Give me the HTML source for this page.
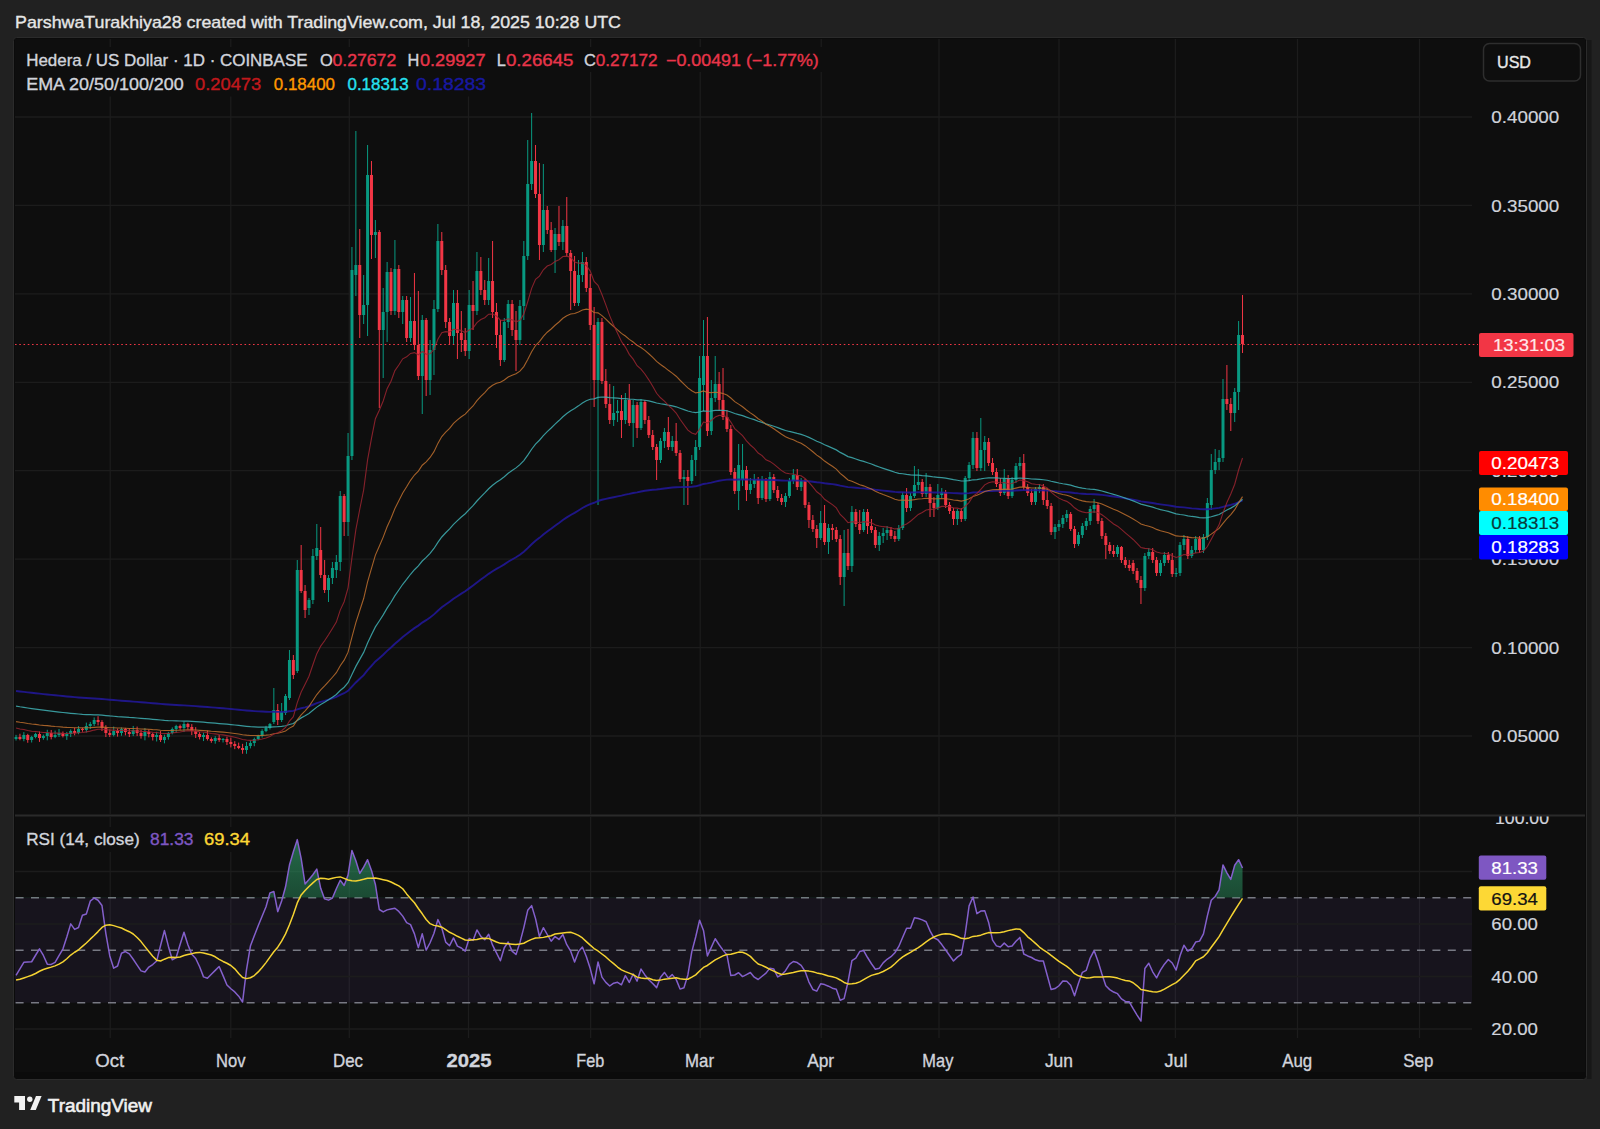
<!DOCTYPE html>
<html><head><meta charset="utf-8"><title>HBAR chart</title>
<style>
html,body{margin:0;padding:0;background:#212121;width:1600px;height:1129px;overflow:hidden}
svg{position:absolute;left:0;top:0;font-family:"Liberation Sans",Arial,sans-serif}
</style></head><body>
<svg width="1600" height="1129" viewBox="0 0 1600 1129">
<rect x="0" y="0" width="1600" height="1129" fill="#212121"/>
<rect x="13.5" y="37.5" width="1573" height="1042" rx="3" fill="#0b0b0b" stroke="#2b2b2b" stroke-width="1"/>
<rect x="15" y="39" width="1570" height="1033" fill="#0e0e0e"/>
<rect x="1587" y="40" width="4.5" height="1039" fill="#171717"/>
<line x1="15" y1="815.5" x2="1585" y2="815.5" stroke="#2a2a2a" stroke-width="2"/>
<line x1="110.2" y1="39" x2="110.2" y2="814" stroke="#1c1c1c" stroke-width="1.3"/>
<line x1="110.2" y1="816" x2="110.2" y2="1038" stroke="#1c1c1c" stroke-width="1.3"/>
<line x1="230.8" y1="39" x2="230.8" y2="814" stroke="#1c1c1c" stroke-width="1.3"/>
<line x1="230.8" y1="816" x2="230.8" y2="1038" stroke="#1c1c1c" stroke-width="1.3"/>
<line x1="349.3" y1="39" x2="349.3" y2="814" stroke="#1c1c1c" stroke-width="1.3"/>
<line x1="349.3" y1="816" x2="349.3" y2="1038" stroke="#1c1c1c" stroke-width="1.3"/>
<line x1="468.5" y1="39" x2="468.5" y2="814" stroke="#1c1c1c" stroke-width="1.3"/>
<line x1="468.5" y1="816" x2="468.5" y2="1038" stroke="#1c1c1c" stroke-width="1.3"/>
<line x1="590.6" y1="39" x2="590.6" y2="814" stroke="#1c1c1c" stroke-width="1.3"/>
<line x1="590.6" y1="816" x2="590.6" y2="1038" stroke="#1c1c1c" stroke-width="1.3"/>
<line x1="700.2" y1="39" x2="700.2" y2="814" stroke="#1c1c1c" stroke-width="1.3"/>
<line x1="700.2" y1="816" x2="700.2" y2="1038" stroke="#1c1c1c" stroke-width="1.3"/>
<line x1="821.2" y1="39" x2="821.2" y2="814" stroke="#1c1c1c" stroke-width="1.3"/>
<line x1="821.2" y1="816" x2="821.2" y2="1038" stroke="#1c1c1c" stroke-width="1.3"/>
<line x1="939" y1="39" x2="939" y2="814" stroke="#1c1c1c" stroke-width="1.3"/>
<line x1="939" y1="816" x2="939" y2="1038" stroke="#1c1c1c" stroke-width="1.3"/>
<line x1="1059" y1="39" x2="1059" y2="814" stroke="#1c1c1c" stroke-width="1.3"/>
<line x1="1059" y1="816" x2="1059" y2="1038" stroke="#1c1c1c" stroke-width="1.3"/>
<line x1="1175.4" y1="39" x2="1175.4" y2="814" stroke="#1c1c1c" stroke-width="1.3"/>
<line x1="1175.4" y1="816" x2="1175.4" y2="1038" stroke="#1c1c1c" stroke-width="1.3"/>
<line x1="1297.5" y1="39" x2="1297.5" y2="814" stroke="#1c1c1c" stroke-width="1.3"/>
<line x1="1297.5" y1="816" x2="1297.5" y2="1038" stroke="#1c1c1c" stroke-width="1.3"/>
<line x1="1419.5" y1="39" x2="1419.5" y2="814" stroke="#1c1c1c" stroke-width="1.3"/>
<line x1="1419.5" y1="816" x2="1419.5" y2="1038" stroke="#1c1c1c" stroke-width="1.3"/>
<line x1="15" y1="117" x2="1472" y2="117" stroke="#1c1c1c" stroke-width="1.3"/>
<line x1="15" y1="205.43" x2="1472" y2="205.43" stroke="#1c1c1c" stroke-width="1.3"/>
<line x1="15" y1="293.86" x2="1472" y2="293.86" stroke="#1c1c1c" stroke-width="1.3"/>
<line x1="15" y1="382.29" x2="1472" y2="382.29" stroke="#1c1c1c" stroke-width="1.3"/>
<line x1="15" y1="470.72" x2="1472" y2="470.72" stroke="#1c1c1c" stroke-width="1.3"/>
<line x1="15" y1="559.15" x2="1472" y2="559.15" stroke="#1c1c1c" stroke-width="1.3"/>
<line x1="15" y1="647.58" x2="1472" y2="647.58" stroke="#1c1c1c" stroke-width="1.3"/>
<line x1="15" y1="736.01" x2="1472" y2="736.01" stroke="#1c1c1c" stroke-width="1.3"/>
<rect x="15" y="897.75" width="1457" height="105" fill="#7e57c2" fill-opacity="0.09"/>
<line x1="15" y1="871.5" x2="1472" y2="871.5" stroke="#1c1c1c" stroke-width="1.3"/>
<line x1="15" y1="924" x2="1472" y2="924" stroke="#1c1c1c" stroke-width="1.3"/>
<line x1="15" y1="976.5" x2="1472" y2="976.5" stroke="#1c1c1c" stroke-width="1.3"/>
<line x1="15" y1="1029" x2="1472" y2="1029" stroke="#1c1c1c" stroke-width="1.3"/>
<line x1="15" y1="897.75" x2="1472" y2="897.75" stroke="#8a8c96" stroke-opacity="0.85" stroke-width="1.3" stroke-dasharray="8 7.4" stroke-dashoffset="-0.6"/>
<line x1="15" y1="950.25" x2="1472" y2="950.25" stroke="#8a8c96" stroke-opacity="0.85" stroke-width="1.3" stroke-dasharray="8 7.4" stroke-dashoffset="-0.6"/>
<line x1="15" y1="1002.75" x2="1472" y2="1002.75" stroke="#8a8c96" stroke-opacity="0.85" stroke-width="1.3" stroke-dasharray="8 7.4" stroke-dashoffset="-0.6"/>
<path d="M16.04 734.87V740.53M23.85 732.12V741.28M31.66 735.87V742.52M35.57 732.76V738.32M43.38 734.57V739.78M47.28 729.8V740.32M55.1 730.58V738.16M59 729V737.01M66.81 731.92V739.86M70.72 729.37V737.04M78.53 726.08V734.22M86.34 722.62V732.5M90.25 721.9V729.05M94.16 717.41V726.05M113.69 726.57V736.41M121.5 727.47V735.71M133.22 725.94V736.1M144.93 728.06V740.31M156.65 731.74V741.48M164.46 734.65V743.34M168.37 731.92V739.62M172.28 727.41V734.41M176.18 724.79V732.69M183.99 721.63V732.05M203.52 732.74V741.09M215.24 736.18V743.7M223.05 737.99V742.47M246.49 741.94V753.79M250.4 740.63V748.4M254.3 737.64V746.22M258.21 734.78V740.24M262.11 729.27V737.57M266.02 725.81V732.18M269.93 723V729.53M273.83 688V724M281.64 703V722M285.55 694V715M289.46 650V700M297.27 560V673M308.99 598V615M312.89 549V604M316.8 524V560M328.52 575V602M332.42 562V584M336.33 555V578M340.23 491V571M348.05 433V536M351.95 247V460M355.86 131V296M363.67 275V324M367.58 145V336M375.39 220V258M383.2 288V378M387.11 262V342M394.92 240V315M402.73 296V324M410.54 297V342M422.26 315V414M430.07 340V395M433.98 300V375M437.88 224V312M453.51 290V344M469.13 290V359M476.94 252V315M488.66 258V305M504.29 318V362M508.19 300V328M519.91 300V345M523.82 241V320M527.72 140V260M531.63 113V190M543.35 164V252M555.06 228V273M562.88 220V250M578.5 260V306M582.41 252V282M598.03 318V505M613.65 386V426M617.56 400V422M625.37 393V424M633.18 400V447M641 399V430M660.53 438V463M664.43 428V448M672.24 436V451M683.96 470V505M691.77 455V484M695.68 440V476M699.59 356V450M703.49 320V411M711.3 380V435M715.21 356V402M738.65 444V510M742.55 444V486M750.36 478V494M754.27 474V488M762.08 476V500M769.89 472V501M785.52 493V507M789.42 478V498M793.33 469V484M801.14 478V491M820.67 511V540M828.48 524V554M844.11 530V606M851.92 506V572M863.64 509V532M879.26 532V551M883.17 528V543M887.07 526V540M898.79 525V541M902.7 492V530M910.51 493V511M914.42 466V498M918.32 469V490M926.13 473V497M937.85 484V510M941.76 488V498M957.38 509V525M965.19 476V521M969.1 462V481M973.01 432V469M980.82 418V471M984.72 436V471M1004.25 469V495M1012.07 477V498M1015.97 463V483M1019.88 457V470M1035.5 487V505M1039.41 484V493M1055.03 524V539M1058.94 520V531M1062.84 515V528M1066.75 510V522M1078.47 532V546M1082.37 523V538M1086.28 518V530M1090.19 506V525M1094.09 499V513M1117.53 545V557M1144.87 553V591M1148.78 548V559M1160.49 560V576M1164.4 552V566M1176.12 568V577M1180.02 542V576M1183.93 535V550M1191.74 546V558M1195.65 536V553M1203.46 534V553M1207.37 498V540M1211.27 454V510M1215.18 449V474M1219.08 450V470M1222.99 379V462M1234.71 388V422M1238.61 321V410" stroke="#089981" stroke-width="1" fill="none"/>
<path d="M19.94 733.72V740.25M27.75 733.8V742.78M39.47 731.51V741.89M51.19 729.98V739.39M62.91 731.5V737.41M74.63 727.76V735.3M82.44 727.79V731.72M98.06 716.22V725.45M101.97 720.15V731.01M105.87 725.16V737.06M109.78 729.45V737.01M117.59 728.54V736.65M125.4 727.86V735.34M129.31 728.32V737.01M137.12 726.57V736.08M141.03 729.97V738.6M148.84 729.34V737.32M152.75 732.79V740.46M160.56 731.12V742M180.09 724.55V729.87M187.9 722.72V729.57M191.81 724.08V735.09M195.71 727.13V738.02M199.62 732.03V739.45M207.43 730.65V740.53M211.34 737.38V742.81M219.15 734.94V741.92M226.96 736.71V744.98M230.87 737.66V747.42M234.77 741.2V749.16M238.68 742.63V749.19M242.58 743.85V753.73M277.74 704V725M293.36 655V679M301.17 545V593M305.08 585V618M320.7 527V578M324.61 560V593M344.14 494V536M359.76 229V338M371.48 161V259M379.29 230V408M391.01 268V315M398.82 265V318M406.64 296V342M414.45 273V350M418.35 291V380M426.17 318V396M441.79 232V275M445.7 265V328M449.6 318V344M457.41 290V359M461.32 311V352M465.23 328V356M473.04 281V330M480.85 257V295M484.76 280V305M492.57 241V318M496.47 303V348M500.38 320V366M512.1 300V336M516 311V371M535.53 145V198M539.44 163V260M547.25 206V234M551.16 222V252M558.97 206V246M566.78 197V256M570.69 250V310M574.59 256V306M586.31 257V292M590.22 274V330M594.12 307V407M601.94 318V384M605.84 369V408M609.75 384V424M621.47 395V438M629.28 384V426M637.09 402V438M644.9 400V424M648.81 416V438M652.71 430V450M656.62 444V480M668.34 417V450M676.15 423V456M680.06 450V482M687.87 470V505M707.4 317V436M719.12 372V411M723.02 368V420M726.93 410V432M730.83 425V475M734.74 468V494M746.46 466V501M758.18 477V504M765.99 478V502M773.8 474V493M777.71 486V501M781.61 494V505M797.24 469V490M805.05 479V508M808.95 502V528M812.86 515V532M816.77 525V548M824.58 505V545M832.39 524V540M836.3 527V542M840.2 535V585M848.01 529V570M855.83 509V527M859.73 510V534M867.54 509V534M871.45 519V533M875.36 527V548M890.98 527V539M894.89 531V542M906.6 488V512M922.23 479V497M930.04 484V517M933.95 497V517M945.66 490V508M949.57 502V514M953.48 508V525M961.29 508V522M976.91 432V471M988.63 438V466M992.54 458V475M996.44 468V487M1000.35 478V496M1008.16 475V499M1023.78 454V490M1027.69 484V496M1031.6 489V505M1043.31 484V505M1047.22 488V509M1051.13 503V535M1070.66 512V531M1074.56 526V548M1098 503V524M1101.9 518V539M1105.81 533V559M1109.72 542V554M1113.62 545V557M1121.43 546V563M1125.34 557V568M1129.25 560V571M1133.15 560V574M1137.06 568V583M1140.96 576V604M1152.68 548V563M1156.59 557V576M1168.31 552V563M1172.21 553V577M1187.84 536V559M1199.55 536V553M1226.9 365V410M1230.8 398V431M1242.52 295V353" stroke="#f23645" stroke-width="1" fill="none"/>
<path d="M14.54 737h3V739h-3ZM22.35 735h3V739h-3ZM30.16 737h3V740h-3ZM34.07 734h3V737h-3ZM41.88 736h3V738h-3ZM45.78 733h3V736h-3ZM53.6 735h3V737h-3ZM57.5 733h3V735h-3ZM65.31 734h3V736h-3ZM69.22 731h3V734h-3ZM77.03 729h3V733h-3ZM84.84 726h3V730h-3ZM88.75 724h3V726h-3ZM92.66 720h3V724h-3ZM112.19 731h3V735h-3ZM120 729h3V733h-3ZM131.72 730h3V734h-3ZM143.43 732h3V736h-3ZM155.15 735h3V737h-3ZM162.96 737h3V740h-3ZM166.87 733h3V737h-3ZM170.78 729h3V733h-3ZM174.68 726h3V729h-3ZM182.49 724h3V728h-3ZM202.02 735h3V737h-3ZM213.74 738h3V741h-3ZM221.55 739h3V740h-3ZM244.99 746h3V750h-3ZM248.9 743h3V746h-3ZM252.8 739h3V743h-3ZM256.71 736h3V739h-3ZM260.61 731h3V736h-3ZM264.52 728h3V731h-3ZM268.43 724h3V728h-3ZM272.33 710h3V722h-3ZM280.14 712h3V720h-3ZM284.05 696h3V713h-3ZM287.96 660h3V698h-3ZM295.77 570h3V671h-3ZM307.49 600h3V608h-3ZM311.39 556h3V600h-3ZM315.3 548h3V556h-3ZM327.02 578h3V590h-3ZM330.92 568h3V578h-3ZM334.83 562h3V570h-3ZM338.73 496h3V562h-3ZM346.55 456h3V522h-3ZM350.45 270h3V456h-3ZM354.36 265h3V275h-3ZM362.17 305h3V315h-3ZM366.08 175h3V305h-3ZM373.89 232h3V235h-3ZM381.7 312h3V330h-3ZM385.61 272h3V312h-3ZM393.42 269h3V311h-3ZM401.23 300h3V312h-3ZM409.04 321h3V338h-3ZM420.76 320h3V376h-3ZM428.57 350h3V380h-3ZM432.48 309h3V350h-3ZM436.38 241h3V309h-3ZM452.01 303h3V336h-3ZM467.63 305h3V351h-3ZM475.44 271h3V311h-3ZM487.16 281h3V300h-3ZM502.79 322h3V360h-3ZM506.69 304h3V322h-3ZM518.41 306h3V340h-3ZM522.32 256h3V306h-3ZM526.22 184h3V256h-3ZM530.13 161h3V184h-3ZM541.85 210h3V245h-3ZM553.56 234h3V250h-3ZM561.38 226h3V242h-3ZM577 275h3V303h-3ZM580.91 262h3V275h-3ZM596.53 322h3V380h-3ZM612.15 413h3V420h-3ZM616.06 411h3V413h-3ZM623.87 400h3V420h-3ZM631.68 405h3V423h-3ZM639.5 402h3V428h-3ZM659.03 441h3V460h-3ZM662.93 432h3V441h-3ZM670.74 441h3V447h-3ZM682.46 477h3V479h-3ZM690.27 460h3V481h-3ZM694.18 447h3V460h-3ZM698.09 378h3V447h-3ZM701.99 356h3V385h-3ZM709.8 398h3V431h-3ZM713.71 384h3V398h-3ZM737.15 465h3V491h-3ZM741.05 470h3V480h-3ZM748.86 484h3V490h-3ZM752.77 480h3V484h-3ZM760.58 480h3V498h-3ZM768.39 477h3V499h-3ZM784.02 496h3V502h-3ZM787.92 481h3V496h-3ZM791.83 475h3V481h-3ZM799.64 481h3V487h-3ZM819.17 523h3V538h-3ZM826.98 528h3V542h-3ZM842.61 553h3V577h-3ZM850.42 512h3V566h-3ZM862.14 512h3V530h-3ZM877.76 536h3V545h-3ZM881.67 533h3V536h-3ZM885.57 530h3V533h-3ZM897.29 528h3V539h-3ZM901.2 495h3V528h-3ZM909.01 496h3V508h-3ZM912.92 485h3V496h-3ZM916.82 482h3V485h-3ZM924.63 487h3V494h-3ZM936.35 495h3V508h-3ZM940.26 492h3V495h-3ZM955.88 511h3V519h-3ZM963.69 478h3V519h-3ZM967.6 465h3V478h-3ZM971.51 438h3V465h-3ZM979.32 450h3V468h-3ZM983.22 442h3V450h-3ZM1002.75 478h3V493h-3ZM1010.57 480h3V496h-3ZM1014.47 466h3V480h-3ZM1018.38 463h3V466h-3ZM1034 489h3V502h-3ZM1037.91 487h3V489h-3ZM1053.53 527h3V532h-3ZM1057.44 524h3V527h-3ZM1061.34 518h3V524h-3ZM1065.25 514h3V518h-3ZM1076.97 535h3V544h-3ZM1080.87 526h3V535h-3ZM1084.78 521h3V526h-3ZM1088.69 509h3V521h-3ZM1092.59 505h3V509h-3ZM1116.03 547h3V554h-3ZM1143.37 556h3V588h-3ZM1147.28 552h3V556h-3ZM1158.99 563h3V573h-3ZM1162.9 555h3V563h-3ZM1174.62 573h3V574h-3ZM1178.52 545h3V573h-3ZM1182.43 539h3V545h-3ZM1190.24 550h3V556h-3ZM1194.15 539h3V550h-3ZM1201.96 537h3V550h-3ZM1205.87 503h3V537h-3ZM1209.77 470h3V505h-3ZM1213.68 462h3V470h-3ZM1217.58 458h3V462h-3ZM1221.49 399h3V458h-3ZM1233.21 392h3V413h-3ZM1237.11 335h3V392h-3Z" fill="#089981"/>
<path d="M18.44 737h3V739h-3ZM26.25 735h3V740h-3ZM37.97 734h3V738h-3ZM49.69 733h3V737h-3ZM61.41 733h3V736h-3ZM73.13 731h3V733h-3ZM80.94 729h3V730h-3ZM96.56 720h3V722h-3ZM100.47 722h3V728h-3ZM104.37 728h3V733h-3ZM108.28 733h3V735h-3ZM116.09 731h3V733h-3ZM123.9 729h3V732h-3ZM127.81 732h3V734h-3ZM135.62 730h3V733h-3ZM139.53 733h3V736h-3ZM147.34 732h3V734h-3ZM151.25 734h3V737h-3ZM159.06 735h3V740h-3ZM178.59 726h3V728h-3ZM186.4 724h3V727h-3ZM190.31 727h3V731h-3ZM194.21 731h3V734h-3ZM198.12 734h3V737h-3ZM205.93 735h3V739h-3ZM209.84 739h3V741h-3ZM217.65 738h3V740h-3ZM225.46 739h3V742h-3ZM229.37 742h3V744h-3ZM233.27 744h3V746h-3ZM237.18 746h3V748h-3ZM241.08 748h3V750h-3ZM276.24 710h3V720h-3ZM291.86 660h3V675h-3ZM299.67 570h3V591h-3ZM303.58 591h3V610h-3ZM319.2 550h3V575h-3ZM323.11 575h3V590h-3ZM342.64 496h3V522h-3ZM358.26 265h3V315h-3ZM369.98 175h3V235h-3ZM377.79 232h3V330h-3ZM389.51 272h3V311h-3ZM397.32 269h3V312h-3ZM405.14 300h3V338h-3ZM412.95 321h3V345h-3ZM416.85 345h3V376h-3ZM424.67 320h3V380h-3ZM440.29 241h3V270h-3ZM444.2 270h3V322h-3ZM448.1 322h3V336h-3ZM455.91 303h3V333h-3ZM459.82 333h3V340h-3ZM463.73 340h3V351h-3ZM471.54 305h3V311h-3ZM479.35 271h3V290h-3ZM483.26 290h3V300h-3ZM491.07 281h3V312h-3ZM494.97 312h3V335h-3ZM498.88 335h3V360h-3ZM510.6 304h3V330h-3ZM514.5 330h3V340h-3ZM534.03 161h3V194h-3ZM537.94 194h3V245h-3ZM545.75 210h3V230h-3ZM549.66 230h3V250h-3ZM557.47 234h3V242h-3ZM565.28 226h3V253h-3ZM569.19 253h3V271h-3ZM573.09 271h3V303h-3ZM584.81 262h3V288h-3ZM588.72 288h3V325h-3ZM592.62 325h3V380h-3ZM600.44 322h3V381h-3ZM604.34 381h3V404h-3ZM608.25 404h3V420h-3ZM619.97 411h3V420h-3ZM627.78 400h3V423h-3ZM635.59 405h3V428h-3ZM643.4 402h3V420h-3ZM647.31 420h3V435h-3ZM651.21 435h3V447h-3ZM655.12 447h3V460h-3ZM666.84 432h3V447h-3ZM674.65 441h3V453h-3ZM678.56 453h3V479h-3ZM686.37 477h3V481h-3ZM705.9 356h3V431h-3ZM717.62 384h3V400h-3ZM721.52 400h3V417h-3ZM725.43 417h3V429h-3ZM729.33 429h3V472h-3ZM733.24 472h3V491h-3ZM744.96 470h3V490h-3ZM756.68 480h3V498h-3ZM764.49 480h3V499h-3ZM772.3 477h3V490h-3ZM776.21 490h3V498h-3ZM780.11 498h3V502h-3ZM795.74 475h3V487h-3ZM803.55 481h3V505h-3ZM807.45 505h3V520h-3ZM811.36 520h3V529h-3ZM815.27 529h3V538h-3ZM823.08 523h3V542h-3ZM830.89 528h3V530h-3ZM834.8 530h3V539h-3ZM838.7 539h3V577h-3ZM846.51 553h3V566h-3ZM854.33 512h3V524h-3ZM858.23 524h3V530h-3ZM866.04 512h3V526h-3ZM869.95 526h3V530h-3ZM873.86 530h3V545h-3ZM889.48 530h3V536h-3ZM893.39 536h3V539h-3ZM905.1 495h3V508h-3ZM920.73 482h3V494h-3ZM928.54 487h3V503h-3ZM932.45 503h3V508h-3ZM944.16 492h3V505h-3ZM948.07 505h3V511h-3ZM951.98 511h3V519h-3ZM959.79 511h3V519h-3ZM975.41 438h3V468h-3ZM987.13 442h3V463h-3ZM991.04 463h3V472h-3ZM994.94 472h3V484h-3ZM998.85 484h3V493h-3ZM1006.66 478h3V496h-3ZM1022.28 463h3V487h-3ZM1026.19 487h3V493h-3ZM1030.1 493h3V502h-3ZM1041.81 487h3V500h-3ZM1045.72 500h3V506h-3ZM1049.63 506h3V532h-3ZM1069.16 514h3V529h-3ZM1073.06 529h3V544h-3ZM1096.5 505h3V521h-3ZM1100.4 521h3V536h-3ZM1104.31 536h3V545h-3ZM1108.22 545h3V551h-3ZM1112.12 551h3V554h-3ZM1119.93 547h3V560h-3ZM1123.84 560h3V565h-3ZM1127.75 565h3V568h-3ZM1131.65 563h3V571h-3ZM1135.56 571h3V580h-3ZM1139.46 580h3V588h-3ZM1151.18 552h3V560h-3ZM1155.09 560h3V573h-3ZM1166.81 555h3V560h-3ZM1170.71 560h3V574h-3ZM1186.34 539h3V556h-3ZM1198.05 539h3V550h-3ZM1225.4 399h3V404h-3ZM1229.3 404h3V413h-3ZM1241.02 335h3V344h-3Z" fill="#f23645"/>
<polyline points="16.04,690.96 19.94,691.44 23.85,691.87 27.75,692.35 31.66,692.8 35.57,693.21 39.47,693.65 43.38,694.07 47.28,694.46 51.19,694.88 55.1,695.28 59,695.66 62.91,696.06 66.81,696.44 70.72,696.78 74.63,697.14 78.53,697.46 82.44,697.78 86.34,698.06 90.25,698.32 94.16,698.54 98.06,698.77 101.97,699.06 105.87,699.4 109.78,699.75 113.69,700.06 117.59,700.39 121.5,700.68 125.4,700.99 129.31,701.32 133.22,701.6 137.12,701.92 141.03,702.25 144.93,702.55 148.84,702.86 152.75,703.2 156.65,703.52 160.56,703.88 164.46,704.21 168.37,704.5 172.28,704.74 176.18,704.95 180.09,705.18 183.99,705.37 187.9,705.59 191.81,705.84 195.71,706.12 199.62,706.43 203.52,706.71 207.43,707.03 211.34,707.37 215.24,707.67 219.15,708 223.05,708.3 226.96,708.64 230.87,708.99 234.77,709.36 238.68,709.74 242.58,710.14 246.49,710.5 250.4,710.82 254.3,711.11 258.21,711.35 262.11,711.55 266.02,711.71 269.93,711.83 273.83,711.82 277.74,711.9 281.64,711.9 285.55,711.74 289.46,711.23 293.36,710.87 297.27,709.46 301.17,708.28 305.08,707.31 308.99,706.24 312.89,704.74 316.8,703.18 320.7,701.91 324.61,700.8 328.52,699.57 332.42,698.26 336.33,696.91 340.23,694.91 344.14,693.19 348.05,690.83 351.95,686.64 355.86,682.45 359.76,678.79 363.67,675.07 367.58,670.09 371.48,665.77 375.39,661.45 379.29,658.15 383.2,654.71 387.11,650.9 391.01,647.52 394.92,643.75 398.82,640.45 402.73,637.06 406.64,634.09 410.54,630.97 414.45,628.13 418.35,625.62 422.26,622.58 426.17,620.16 430.07,617.47 433.98,614.4 437.88,610.69 441.79,607.3 445.7,604.46 449.6,601.79 453.51,598.82 457.41,596.17 461.32,593.62 465.23,591.21 469.13,588.36 473.04,585.6 476.94,582.47 480.85,579.56 484.76,576.78 488.66,573.84 492.57,571.23 496.47,568.88 500.38,566.8 504.29,564.37 508.19,561.77 512.1,559.47 516,557.28 519.91,554.78 523.82,551.81 527.72,548.15 531.63,544.3 535.53,540.81 539.44,537.87 543.35,534.61 547.25,531.58 551.16,528.77 555.06,525.84 558.97,523.02 562.88,520.06 566.78,517.4 570.69,514.95 574.59,512.84 578.5,510.48 582.41,508.01 586.31,505.82 590.22,504.02 594.12,502.78 598.03,500.98 601.94,499.79 605.84,498.84 609.75,498.05 613.65,497.21 617.56,496.35 621.47,495.59 625.37,494.64 629.28,493.92 633.18,493.04 637.09,492.39 641,491.49 644.9,490.78 648.81,490.23 652.71,489.8 656.62,489.5 660.53,489.02 664.43,488.45 668.34,488.04 672.24,487.57 676.15,487.23 680.06,487.14 683.96,487.04 687.87,486.98 691.77,486.71 695.68,486.32 699.59,485.24 703.49,483.96 707.4,483.43 711.3,482.58 715.21,481.6 719.12,480.79 723.02,480.15 726.93,479.64 730.83,479.57 734.74,479.68 738.65,479.53 742.55,479.44 746.46,479.54 750.36,479.59 754.27,479.59 758.18,479.78 762.08,479.78 765.99,479.97 769.89,479.94 773.8,480.04 777.71,480.22 781.61,480.44 785.52,480.59 789.42,480.59 793.33,480.54 797.24,480.6 801.14,480.61 805.05,480.85 808.95,481.24 812.86,481.71 816.77,482.27 820.67,482.68 824.58,483.27 828.48,483.71 832.39,484.18 836.3,484.72 840.2,485.64 844.11,486.31 848.01,487.1 851.92,487.35 855.83,487.71 859.73,488.14 863.64,488.37 867.54,488.75 871.45,489.16 875.36,489.71 879.26,490.17 883.17,490.6 887.07,490.99 890.98,491.44 894.89,491.91 898.79,492.27 902.7,492.3 906.6,492.46 910.51,492.49 914.42,492.42 918.32,492.31 922.23,492.33 926.13,492.28 930.04,492.38 933.95,492.54 937.85,492.56 941.76,492.56 945.66,492.68 949.57,492.86 953.48,493.12 957.38,493.3 961.29,493.56 965.19,493.4 969.1,493.12 973.01,492.57 976.91,492.33 980.82,491.91 984.72,491.41 988.63,491.13 992.54,490.94 996.44,490.87 1000.35,490.89 1004.25,490.76 1008.16,490.81 1012.07,490.7 1015.97,490.46 1019.88,490.19 1023.78,490.15 1027.69,490.18 1031.6,490.3 1035.5,490.29 1039.41,490.25 1043.31,490.35 1047.22,490.51 1051.13,490.92 1055.03,491.28 1058.94,491.6 1062.84,491.87 1066.75,492.09 1070.66,492.45 1074.56,492.97 1078.47,493.39 1082.37,493.71 1086.28,493.98 1090.19,494.13 1094.09,494.24 1098,494.51 1101.9,494.92 1105.81,495.42 1109.72,495.97 1113.62,496.55 1117.53,497.05 1121.43,497.68 1125.34,498.35 1129.25,499.04 1133.15,499.75 1137.06,500.55 1140.96,501.42 1144.87,501.97 1148.78,502.46 1152.68,503.04 1156.59,503.73 1160.49,504.32 1164.4,504.83 1168.31,505.38 1172.21,506.06 1176.12,506.72 1180.02,507.11 1183.93,507.42 1187.84,507.91 1191.74,508.33 1195.65,508.63 1199.55,509.04 1203.46,509.32 1207.37,509.26 1211.27,508.87 1215.18,508.4 1219.08,507.9 1222.99,506.82 1226.9,505.79 1230.8,504.87 1234.71,503.75 1238.61,502.07 1242.52,500.49" fill="none" stroke="#22189c" stroke-width="1.9" stroke-opacity="0.85"/>
<polyline points="16.04,706.12 19.94,706.77 23.85,707.33 27.75,707.98 31.66,708.56 35.57,709.06 39.47,709.63 43.38,710.15 47.28,710.61 51.19,711.13 55.1,711.6 59,712.03 62.91,712.5 66.81,712.93 70.72,713.28 74.63,713.67 78.53,713.98 82.44,714.3 86.34,714.53 90.25,714.71 94.16,714.82 98.06,714.96 101.97,715.22 105.87,715.57 109.78,715.96 113.69,716.25 117.59,716.59 121.5,716.83 125.4,717.13 129.31,717.47 133.22,717.71 137.12,718.02 141.03,718.37 144.93,718.64 148.84,718.95 152.75,719.3 156.65,719.62 160.56,720.02 164.46,720.36 168.37,720.61 172.28,720.77 176.18,720.88 180.09,721.02 183.99,721.08 187.9,721.19 191.81,721.39 195.71,721.64 199.62,721.94 203.52,722.2 207.43,722.53 211.34,722.9 215.24,723.2 219.15,723.53 223.05,723.84 226.96,724.2 230.87,724.59 234.77,725.01 238.68,725.47 242.58,725.95 246.49,726.35 250.4,726.68 254.3,726.92 258.21,727.1 262.11,727.18 266.02,727.2 269.93,727.13 273.83,726.79 277.74,726.66 281.64,726.37 285.55,725.77 289.46,724.47 293.36,723.49 297.27,720.45 301.17,717.88 305.08,715.75 308.99,713.46 312.89,710.34 316.8,707.12 320.7,704.51 324.61,702.24 328.52,699.78 332.42,697.17 336.33,694.49 340.23,690.56 344.14,687.22 348.05,682.65 351.95,674.47 355.86,666.37 359.76,659.41 363.67,652.39 367.58,642.94 371.48,634.86 375.39,626.88 379.29,621 383.2,614.88 387.11,608.09 391.01,602.21 394.92,595.61 398.82,590 402.73,584.25 406.64,579.38 410.54,574.26 414.45,569.72 418.35,565.89 422.26,561.02 426.17,557.43 430.07,553.32 433.98,548.49 437.88,542.4 441.79,537 445.7,532.75 449.6,528.85 453.51,524.38 457.41,520.59 461.32,517.01 465.23,513.72 469.13,509.59 473.04,505.66 476.94,501.01 480.85,496.83 484.76,492.94 488.66,488.74 492.57,485.24 496.47,482.26 500.38,479.84 504.29,476.72 508.19,473.3 512.1,470.46 516,467.88 519.91,464.67 523.82,460.54 527.72,455.06 531.63,449.24 535.53,444.19 539.44,440.24 543.35,435.68 547.25,431.61 551.16,428.01 555.06,424.17 558.97,420.56 562.88,416.71 566.78,413.47 570.69,410.65 574.59,408.52 578.5,405.87 582.41,403.02 586.31,400.75 590.22,399.25 594.12,398.87 598.03,397.34 601.94,397.02 605.84,397.16 609.75,397.61 613.65,397.91 617.56,398.17 621.47,398.61 625.37,398.63 629.28,399.12 633.18,399.23 637.09,399.8 641,399.85 644.9,400.24 648.81,400.93 652.71,401.85 656.62,403 660.53,403.75 664.43,404.31 668.34,405.15 672.24,405.86 676.15,406.8 680.06,408.23 683.96,409.59 687.87,411 691.77,411.97 695.68,412.67 699.59,411.98 703.49,410.87 707.4,411.27 711.3,411.01 715.21,410.47 719.12,410.27 723.02,410.4 726.93,410.77 730.83,411.98 734.74,413.54 738.65,414.56 742.55,415.66 746.46,417.13 750.36,418.46 754.27,419.68 758.18,421.23 762.08,422.39 765.99,423.91 769.89,424.96 773.8,426.25 777.71,427.67 781.61,429.14 785.52,430.46 789.42,431.46 793.33,432.33 797.24,433.41 801.14,434.35 805.05,435.75 808.95,437.42 812.86,439.23 816.77,441.19 820.67,442.81 824.58,444.77 828.48,446.42 832.39,448.08 836.3,449.88 840.2,452.39 844.11,454.39 848.01,456.6 851.92,457.69 855.83,459.01 859.73,460.41 863.64,461.43 867.54,462.71 871.45,464.04 875.36,465.65 879.26,467.04 883.17,468.35 887.07,469.57 890.98,470.88 894.89,472.23 898.79,473.34 902.7,473.77 906.6,474.44 910.51,474.87 914.42,475.07 918.32,475.21 922.23,475.58 926.13,475.81 930.04,476.34 933.95,476.97 937.85,477.33 941.76,477.62 945.66,478.16 949.57,478.81 953.48,479.61 957.38,480.23 961.29,481 965.19,480.94 969.1,480.62 973.01,479.78 976.91,479.54 980.82,478.96 984.72,478.23 988.63,477.93 992.54,477.81 996.44,477.93 1000.35,478.23 1004.25,478.23 1008.16,478.58 1012.07,478.61 1015.97,478.36 1019.88,478.05 1023.78,478.23 1027.69,478.52 1031.6,478.99 1035.5,479.18 1039.41,479.34 1043.31,479.75 1047.22,480.27 1051.13,481.29 1055.03,482.2 1058.94,483.03 1062.84,483.72 1066.75,484.32 1070.66,485.2 1074.56,486.37 1078.47,487.33 1082.37,488.1 1086.28,488.75 1090.19,489.15 1094.09,489.46 1098,490.09 1101.9,491 1105.81,492.07 1109.72,493.23 1113.62,494.44 1117.53,495.48 1121.43,496.75 1125.34,498.11 1129.25,499.49 1133.15,500.91 1137.06,502.47 1140.96,504.17 1144.87,505.19 1148.78,506.12 1152.68,507.19 1156.59,508.49 1160.49,509.57 1164.4,510.47 1168.31,511.45 1172.21,512.69 1176.12,513.88 1180.02,514.5 1183.93,514.98 1187.84,515.8 1191.74,516.47 1195.65,516.92 1199.55,517.57 1203.46,517.96 1207.37,517.66 1211.27,516.72 1215.18,515.63 1219.08,514.49 1222.99,512.21 1226.9,510.06 1230.8,508.14 1234.71,505.84 1238.61,502.46 1242.52,499.32" fill="none" stroke="#3fb0b4" stroke-width="1.2" stroke-opacity="0.85"/>
<polyline points="16.04,721.63 19.94,722.31 23.85,722.81 27.75,723.48 31.66,724.01 35.57,724.4 39.47,724.94 43.38,725.37 47.28,725.67 51.19,726.11 55.1,726.46 59,726.72 62.91,727.08 66.81,727.35 70.72,727.5 74.63,727.71 78.53,727.76 82.44,727.85 86.34,727.78 90.25,727.63 94.16,727.33 98.06,727.12 101.97,727.16 105.87,727.39 109.78,727.68 113.69,727.81 117.59,728.02 121.5,728.06 125.4,728.21 129.31,728.44 133.22,728.5 137.12,728.68 141.03,728.96 144.93,729.08 148.84,729.27 152.75,729.58 156.65,729.79 160.56,730.19 164.46,730.46 168.37,730.56 172.28,730.5 176.18,730.32 180.09,730.23 183.99,729.98 187.9,729.87 191.81,729.91 195.71,730.07 199.62,730.34 203.52,730.53 207.43,730.86 211.34,731.26 215.24,731.52 219.15,731.85 223.05,732.13 226.96,732.52 230.87,732.97 234.77,733.48 238.68,734.05 242.58,734.68 246.49,735.12 250.4,735.43 254.3,735.57 258.21,735.59 262.11,735.41 266.02,735.12 269.93,734.68 273.83,733.71 277.74,733.17 281.64,732.34 285.55,730.92 289.46,728.14 293.36,726.05 297.27,719.93 301.17,714.88 305.08,710.77 308.99,706.42 312.89,700.52 316.8,694.54 320.7,689.85 324.61,685.94 328.52,681.7 332.42,677.25 336.33,672.73 340.23,665.8 344.14,660.16 348.05,652.15 351.95,637.16 355.86,622.57 359.76,610.51 363.67,598.53 367.58,581.92 371.48,568.31 375.39,555.13 379.29,546.3 383.2,537.11 387.11,526.71 391.01,518.25 394.92,508.48 398.82,500.77 402.73,492.9 406.64,486.83 410.54,480.32 414.45,475.02 418.35,471.13 422.26,465.21 426.17,461.86 430.07,457.48 433.98,451.65 437.88,443.39 441.79,436.59 445.7,432.1 449.6,428.33 453.51,423.42 457.41,419.87 461.32,416.74 465.23,414.16 469.13,409.88 473.04,406 476.94,400.71 480.85,396.37 484.76,392.59 488.66,388.21 492.57,385.22 496.47,383.25 500.38,382.34 504.29,379.98 508.19,377 512.1,375.15 516,373.77 519.91,371.12 523.82,366.6 527.72,359.44 531.63,351.66 535.53,345.48 539.44,341.54 543.35,336.38 547.25,332.21 551.16,328.98 555.06,325.26 558.97,321.99 562.88,318.23 566.78,315.67 570.69,313.92 574.59,313.49 578.5,311.98 582.41,310.02 586.31,309.16 590.22,309.78 594.12,312.53 598.03,312.9 601.94,315.57 605.84,319.04 609.75,323 613.65,326.53 617.56,329.84 621.47,333.38 625.37,335.99 629.28,339.4 633.18,341.98 637.09,345.35 641,347.57 644.9,350.41 648.81,353.73 652.71,357.39 656.62,361.41 660.53,364.53 664.43,367.18 668.34,370.31 672.24,373.08 676.15,376.21 680.06,380.24 683.96,384.04 687.87,387.84 691.77,390.67 695.68,392.88 699.59,392.3 703.49,390.87 707.4,392.45 711.3,392.66 715.21,392.32 719.12,392.63 723.02,393.58 726.93,394.97 730.83,397.99 734.74,401.64 738.65,404.12 742.55,406.71 746.46,409.97 750.36,412.88 754.27,415.51 758.18,418.74 762.08,421.15 765.99,424.2 769.89,426.27 773.8,428.77 777.71,431.48 781.61,434.25 785.52,436.67 789.42,438.41 793.33,439.84 797.24,441.69 801.14,443.23 805.05,445.66 808.95,448.57 812.86,451.73 816.77,455.11 820.67,457.77 824.58,461.07 828.48,463.7 832.39,466.3 836.3,469.15 840.2,473.38 844.11,476.5 848.01,480.01 851.92,481.27 855.83,482.94 859.73,484.79 863.64,485.85 867.54,487.43 871.45,489.1 875.36,491.29 879.26,493.04 883.17,494.61 887.07,496 890.98,497.57 894.89,499.19 898.79,500.32 902.7,500.11 906.6,500.42 910.51,500.25 914.42,499.65 918.32,498.96 922.23,498.76 926.13,498.3 930.04,498.49 933.95,498.86 937.85,498.71 941.76,498.45 945.66,498.7 949.57,499.19 953.48,499.96 957.38,500.4 961.29,501.12 965.19,500.22 969.1,498.84 973.01,496.45 976.91,495.34 980.82,493.56 984.72,491.54 988.63,490.42 992.54,489.69 996.44,489.47 1000.35,489.61 1004.25,489.15 1008.16,489.42 1012.07,489.05 1015.97,488.15 1019.88,487.16 1023.78,487.16 1027.69,487.39 1031.6,487.96 1035.5,488 1039.41,487.96 1043.31,488.43 1047.22,489.12 1051.13,490.8 1055.03,492.22 1058.94,493.47 1062.84,494.43 1066.75,495.2 1070.66,496.52 1074.56,498.39 1078.47,499.82 1082.37,500.85 1086.28,501.64 1090.19,501.93 1094.09,502.05 1098,502.79 1101.9,504.09 1105.81,505.7 1109.72,507.47 1113.62,509.3 1117.53,510.78 1121.43,512.71 1125.34,514.76 1129.25,516.85 1133.15,518.97 1137.06,521.36 1140.96,523.98 1144.87,525.23 1148.78,526.28 1152.68,527.6 1156.59,529.38 1160.49,530.7 1164.4,531.66 1168.31,532.77 1172.21,534.38 1176.12,535.9 1180.02,536.26 1183.93,536.36 1187.84,537.13 1191.74,537.64 1195.65,537.69 1199.55,538.17 1203.46,538.13 1207.37,536.75 1211.27,534.13 1215.18,531.3 1219.08,528.43 1222.99,523.35 1226.9,518.67 1230.8,514.53 1234.71,509.72 1238.61,502.87 1242.52,496.64" fill="none" stroke="#bd6e2e" stroke-width="1.1" stroke-opacity="0.85"/>
<polyline points="16.04,727.95 19.94,729 23.85,729.58 27.75,730.57 31.66,731.18 35.57,731.45 39.47,732.07 43.38,732.45 47.28,732.5 51.19,732.93 55.1,733.13 59,733.11 62.91,733.39 66.81,733.45 70.72,733.21 74.63,733.19 78.53,732.79 82.44,732.53 86.34,731.91 90.25,731.15 94.16,730.09 98.06,729.32 101.97,729.19 105.87,729.56 109.78,730.08 113.69,730.16 117.59,730.43 121.5,730.3 125.4,730.46 129.31,730.8 133.22,730.72 137.12,730.94 141.03,731.42 144.93,731.48 148.84,731.72 152.75,732.22 156.65,732.48 160.56,733.2 164.46,733.56 168.37,733.51 172.28,733.08 176.18,732.4 180.09,731.99 183.99,731.22 187.9,730.82 191.81,730.84 195.71,731.14 199.62,731.7 203.52,732.01 207.43,732.68 211.34,733.47 215.24,733.9 219.15,734.48 223.05,734.91 226.96,735.59 230.87,736.39 234.77,737.3 238.68,738.32 242.58,739.44 246.49,740.06 250.4,740.34 254.3,740.21 258.21,739.81 262.11,738.97 266.02,737.93 269.93,736.6 273.83,734.07 277.74,732.73 281.64,730.75 285.55,727.44 289.46,721.02 293.36,716.64 297.27,702.67 301.17,692.04 305.08,684.22 308.99,676.2 312.89,664.75 316.8,653.64 320.7,646.15 324.61,640.8 328.52,634.82 332.42,628.45 336.33,622.13 340.23,610.11 344.14,601.72 348.05,587.84 351.95,557.57 355.86,529.71 359.76,509.26 363.67,489.81 367.58,459.83 371.48,438.41 375.39,418.75 379.29,410.3 383.2,400.94 387.11,388.66 391.01,381.26 394.92,370.57 398.82,364.99 402.73,358.8 406.64,356.82 410.54,353.41 414.45,352.61 418.35,354.84 422.26,351.52 426.17,354.23 430.07,353.83 433.98,349.56 437.88,339.22 441.79,332.63 445.7,331.62 449.6,332.03 453.51,329.27 457.41,329.62 461.32,330.61 465.23,332.55 469.13,329.93 473.04,328.13 476.94,322.69 480.85,319.57 484.76,317.71 488.66,314.21 492.57,314 496.47,316 500.38,320.19 504.29,320.36 508.19,318.81 512.1,319.87 516,321.79 519.91,320.29 523.82,314.16 527.72,301.77 531.63,288.36 535.53,279.37 539.44,276.1 543.35,269.8 547.25,266.01 551.16,264.49 555.06,261.58 558.97,259.72 562.88,256.51 566.78,256.17 570.69,257.59 574.59,261.91 578.5,263.16 582.41,263.05 586.31,265.42 590.22,271.1 594.12,281.47 598.03,285.33 601.94,294.44 605.84,304.88 609.75,315.84 613.65,325.09 617.56,333.27 621.47,341.53 625.37,347.1 629.28,354.33 633.18,359.16 637.09,365.71 641,369.17 644.9,374.01 648.81,379.82 652.71,386.22 656.62,393.24 660.53,397.79 664.43,401.05 668.34,405.43 672.24,408.81 676.15,413.02 680.06,419.31 683.96,424.8 687.87,430.15 691.77,433 695.68,434.33 699.59,428.96 703.49,422.02 707.4,422.87 711.3,420.5 715.21,417.03 719.12,415.4 723.02,415.56 726.93,416.84 730.83,422.09 734.74,428.65 738.65,432.11 742.55,435.72 746.46,440.89 750.36,445 754.27,448.33 758.18,453.06 762.08,455.63 765.99,459.76 769.89,461.4 773.8,464.12 777.71,467.35 781.61,470.65 785.52,473.06 789.42,473.82 793.33,473.93 797.24,475.18 801.14,475.73 805.05,478.52 808.95,482.47 812.86,486.9 816.77,491.77 820.67,494.74 824.58,499.24 828.48,501.98 832.39,504.65 836.3,507.92 840.2,514.5 844.11,518.17 848.01,522.72 851.92,521.7 855.83,521.92 859.73,522.69 863.64,521.67 867.54,522.08 871.45,522.84 875.36,524.95 879.26,526 883.17,526.67 887.07,526.98 890.98,527.84 894.89,528.91 898.79,528.82 902.7,525.6 906.6,523.92 910.51,521.26 914.42,517.81 918.32,514.4 922.23,512.46 926.13,510.03 930.04,509.36 933.95,509.23 937.85,507.88 941.76,506.37 945.66,506.24 949.57,506.69 953.48,507.86 957.38,508.16 961.29,509.19 965.19,506.22 969.1,502.3 973.01,496.17 976.91,493.49 980.82,489.35 984.72,484.84 988.63,482.76 992.54,481.73 996.44,481.95 1000.35,483 1004.25,482.53 1008.16,483.81 1012.07,483.45 1015.97,481.78 1019.88,480 1023.78,480.66 1027.69,481.84 1031.6,483.76 1035.5,484.26 1039.41,484.52 1043.31,485.99 1047.22,487.9 1051.13,492.1 1055.03,495.42 1058.94,498.14 1062.84,500.04 1066.75,501.37 1070.66,504 1074.56,507.81 1078.47,510.4 1082.37,511.88 1086.28,512.75 1090.19,512.39 1094.09,511.69 1098,512.58 1101.9,514.81 1105.81,517.68 1109.72,520.86 1113.62,524.01 1117.53,526.2 1121.43,529.42 1125.34,532.81 1129.25,536.16 1133.15,539.48 1137.06,543.34 1140.96,547.59 1144.87,548.39 1148.78,548.74 1152.68,549.81 1156.59,552.02 1160.49,553.06 1164.4,553.25 1168.31,553.89 1172.21,555.81 1176.12,557.44 1180.02,556.26 1183.93,554.61 1187.84,554.75 1191.74,554.29 1195.65,552.84 1199.55,552.57 1203.46,551.09 1207.37,546.51 1211.27,539.22 1215.18,531.87 1219.08,524.83 1222.99,512.85 1226.9,502.48 1230.8,493.96 1234.71,484.25 1238.61,470.03 1242.52,458.03" fill="none" stroke="#9a2530" stroke-width="1.1" stroke-opacity="0.85"/>
<line x1="15" y1="344.5" x2="1478" y2="344.5" stroke="#f23645" stroke-width="1" stroke-dasharray="1.6 2.65"/>
<defs><clipPath id="ob"><rect x="0" y="0" width="1600" height="897.75"/></clipPath><linearGradient id="obg" x1="0" y1="0" x2="0" y2="1"><stop offset="0" stop-color="#2f9e6a" stop-opacity="0.65"/><stop offset="1" stop-color="#1b5e3a" stop-opacity="0.15"/></linearGradient></defs>
<polygon points="16.04,897.75 16.04,975.41 19.94,968.84 23.85,962.28 27.75,961.92 31.66,961.75 35.57,955.26 39.47,948.77 43.38,955.44 47.28,964.17 51.19,964.42 55.1,962.39 59,955.73 62.91,949.07 66.81,937.06 70.72,923.89 74.63,929.37 78.53,927.52 82.44,915.3 86.34,914.04 90.25,901.18 94.16,898.01 98.06,900.25 101.97,905.52 105.87,933.53 109.78,955.99 113.69,968.15 117.59,966.03 121.5,953.21 125.4,951.56 129.31,953.84 133.22,959.22 137.12,965.06 141.03,970.89 144.93,971.97 148.84,967.08 152.75,964.52 156.65,961.06 160.56,945.55 164.46,930.56 168.37,946.17 172.28,959.79 176.18,957.51 180.09,944.54 183.99,932.18 187.9,944.8 191.81,954.35 195.71,958.45 199.62,966.75 203.52,976.87 207.43,978.26 211.34,974.33 215.24,970.4 219.15,966.46 223.05,975.62 226.96,984.95 230.87,988.73 234.77,991.93 238.68,996.16 242.58,1002.02 246.49,969.84 250.4,946.06 254.3,935.81 258.21,925.78 262.11,916.24 266.02,906.71 269.93,892.89 273.83,891.46 277.74,911.62 281.64,900.95 285.55,886.81 289.46,865.08 293.36,851.68 297.27,839.63 301.17,858.56 305.08,884.01 308.99,879.47 312.89,874.7 316.8,869.16 320.7,888.32 324.61,898.89 328.52,900.13 332.42,898.05 336.33,888.7 340.23,880.22 344.14,885.51 348.05,875.13 351.95,850.49 355.86,860.74 359.76,873.36 363.67,867.14 367.58,859.71 371.48,870.39 375.39,884.49 379.29,909.5 383.2,911.92 387.11,909.86 391.01,909.06 394.92,908.27 398.82,911.4 402.73,916.11 406.64,922.62 410.54,924.62 414.45,933.85 418.35,947.65 422.26,933.8 426.17,950.12 430.07,942.76 433.98,933.31 437.88,919.6 441.79,928.05 445.7,942.11 449.6,945.71 453.51,937.91 457.41,946.08 461.32,947.99 465.23,951.1 469.13,938.55 473.04,940.43 476.94,929.95 480.85,936.36 484.76,939.76 488.66,934.24 492.57,945.19 496.47,952.83 500.38,960.76 504.29,947.77 508.19,942.02 512.1,951.08 516,954.5 519.91,942.64 523.82,927.59 527.72,910.35 531.63,905.61 535.53,918.65 539.44,936.53 543.35,927.71 547.25,934.5 551.16,941.17 555.06,936.57 558.97,939.45 562.88,934.51 566.78,944.71 570.69,951.2 574.59,962.05 578.5,951.64 582.41,946.98 586.31,956.44 590.22,968.6 594.12,983.81 598.03,961.94 601.94,977.11 605.84,982.39 609.75,986.01 613.65,983.19 617.56,982.34 621.47,984.77 625.37,975.59 629.28,982.39 633.18,974.01 637.09,981.09 641,969.05 644.9,974.95 648.81,979.74 652.71,983.54 656.62,987.63 660.53,977.24 664.43,972.42 668.34,978.07 672.24,974.6 676.15,979.4 680.06,989.09 683.96,987.76 687.87,974.94 691.77,951.83 695.68,937.01 699.59,920.28 703.49,930.42 707.4,955.89 711.3,947.36 715.21,938.76 719.12,944.74 723.02,950.1 726.93,954.89 730.83,975.55 734.74,975.01 738.65,972.67 742.55,976.6 746.46,974.57 750.36,972.54 754.27,977.19 758.18,979.48 762.08,976.29 765.99,973.1 769.89,968.15 773.8,969.1 777.71,976.96 781.61,974.86 785.52,970.64 789.42,964.35 793.33,961.49 797.24,962.52 801.14,965.3 805.05,971.32 808.95,982.08 812.86,989.47 816.77,991.13 820.67,983.73 824.58,984.59 828.48,986.2 832.39,988.15 836.3,989.18 840.2,1000.25 844.11,998.65 848.01,981.96 851.92,960.74 855.83,958.24 859.73,951.59 863.64,950.55 867.54,957.52 871.45,963.74 875.36,969.21 879.26,968.35 883.17,962.88 887.07,959.29 890.98,956.67 894.89,952.74 898.79,946.45 902.7,937.25 906.6,928.32 910.51,928.14 914.42,917.66 918.32,918.44 922.23,919.84 926.13,921.72 930.04,930.88 933.95,937.82 937.85,939.7 941.76,944.57 945.66,950.04 949.57,955.51 953.48,960.98 957.38,957.11 961.29,954.35 965.19,933.88 969.1,905.89 973.01,896.98 976.91,913.62 980.82,911.04 984.72,910.63 988.63,922.42 992.54,940.07 996.44,945.88 1000.35,947.08 1004.25,943.15 1008.16,946.74 1012.07,946.02 1015.97,941.3 1019.88,937.42 1023.78,954.05 1027.69,955.94 1031.6,957.5 1035.5,959.82 1039.41,961.01 1043.31,961.01 1047.22,975.2 1051.13,989.59 1055.03,988.57 1058.94,985.74 1062.84,981.1 1066.75,981.29 1070.66,985.32 1074.56,995.8 1078.47,983.17 1082.37,972.37 1086.28,970.32 1090.19,958.09 1094.09,950.59 1098,961.18 1101.9,974.06 1105.81,985.72 1109.72,989.65 1113.62,992.04 1117.53,993.68 1121.43,998.88 1125.34,1001.44 1129.25,1001.87 1133.15,1008.7 1137.06,1015.09 1140.96,1021.07 1144.87,968.52 1148.78,963.2 1152.68,971.81 1156.59,977.94 1160.49,970.08 1164.4,964.19 1168.31,959.55 1172.21,963.01 1176.12,970.04 1180.02,955.84 1183.93,945.23 1187.84,951.09 1191.74,948.76 1195.65,942.1 1199.55,941.14 1203.46,933.95 1207.37,915.87 1211.27,900.28 1215.18,896.44 1219.08,889.88 1222.99,864.94 1226.9,872.81 1230.8,879.38 1234.71,865.2 1238.61,859.69 1242.52,868.01 1242.52,897.75" fill="url(#obg)" clip-path="url(#ob)" />
<polyline points="16.04,975.41 19.94,968.84 23.85,962.28 27.75,961.92 31.66,961.75 35.57,955.26 39.47,948.77 43.38,955.44 47.28,964.17 51.19,964.42 55.1,962.39 59,955.73 62.91,949.07 66.81,937.06 70.72,923.89 74.63,929.37 78.53,927.52 82.44,915.3 86.34,914.04 90.25,901.18 94.16,898.01 98.06,900.25 101.97,905.52 105.87,933.53 109.78,955.99 113.69,968.15 117.59,966.03 121.5,953.21 125.4,951.56 129.31,953.84 133.22,959.22 137.12,965.06 141.03,970.89 144.93,971.97 148.84,967.08 152.75,964.52 156.65,961.06 160.56,945.55 164.46,930.56 168.37,946.17 172.28,959.79 176.18,957.51 180.09,944.54 183.99,932.18 187.9,944.8 191.81,954.35 195.71,958.45 199.62,966.75 203.52,976.87 207.43,978.26 211.34,974.33 215.24,970.4 219.15,966.46 223.05,975.62 226.96,984.95 230.87,988.73 234.77,991.93 238.68,996.16 242.58,1002.02 246.49,969.84 250.4,946.06 254.3,935.81 258.21,925.78 262.11,916.24 266.02,906.71 269.93,892.89 273.83,891.46 277.74,911.62 281.64,900.95 285.55,886.81 289.46,865.08 293.36,851.68 297.27,839.63 301.17,858.56 305.08,884.01 308.99,879.47 312.89,874.7 316.8,869.16 320.7,888.32 324.61,898.89 328.52,900.13 332.42,898.05 336.33,888.7 340.23,880.22 344.14,885.51 348.05,875.13 351.95,850.49 355.86,860.74 359.76,873.36 363.67,867.14 367.58,859.71 371.48,870.39 375.39,884.49 379.29,909.5 383.2,911.92 387.11,909.86 391.01,909.06 394.92,908.27 398.82,911.4 402.73,916.11 406.64,922.62 410.54,924.62 414.45,933.85 418.35,947.65 422.26,933.8 426.17,950.12 430.07,942.76 433.98,933.31 437.88,919.6 441.79,928.05 445.7,942.11 449.6,945.71 453.51,937.91 457.41,946.08 461.32,947.99 465.23,951.1 469.13,938.55 473.04,940.43 476.94,929.95 480.85,936.36 484.76,939.76 488.66,934.24 492.57,945.19 496.47,952.83 500.38,960.76 504.29,947.77 508.19,942.02 512.1,951.08 516,954.5 519.91,942.64 523.82,927.59 527.72,910.35 531.63,905.61 535.53,918.65 539.44,936.53 543.35,927.71 547.25,934.5 551.16,941.17 555.06,936.57 558.97,939.45 562.88,934.51 566.78,944.71 570.69,951.2 574.59,962.05 578.5,951.64 582.41,946.98 586.31,956.44 590.22,968.6 594.12,983.81 598.03,961.94 601.94,977.11 605.84,982.39 609.75,986.01 613.65,983.19 617.56,982.34 621.47,984.77 625.37,975.59 629.28,982.39 633.18,974.01 637.09,981.09 641,969.05 644.9,974.95 648.81,979.74 652.71,983.54 656.62,987.63 660.53,977.24 664.43,972.42 668.34,978.07 672.24,974.6 676.15,979.4 680.06,989.09 683.96,987.76 687.87,974.94 691.77,951.83 695.68,937.01 699.59,920.28 703.49,930.42 707.4,955.89 711.3,947.36 715.21,938.76 719.12,944.74 723.02,950.1 726.93,954.89 730.83,975.55 734.74,975.01 738.65,972.67 742.55,976.6 746.46,974.57 750.36,972.54 754.27,977.19 758.18,979.48 762.08,976.29 765.99,973.1 769.89,968.15 773.8,969.1 777.71,976.96 781.61,974.86 785.52,970.64 789.42,964.35 793.33,961.49 797.24,962.52 801.14,965.3 805.05,971.32 808.95,982.08 812.86,989.47 816.77,991.13 820.67,983.73 824.58,984.59 828.48,986.2 832.39,988.15 836.3,989.18 840.2,1000.25 844.11,998.65 848.01,981.96 851.92,960.74 855.83,958.24 859.73,951.59 863.64,950.55 867.54,957.52 871.45,963.74 875.36,969.21 879.26,968.35 883.17,962.88 887.07,959.29 890.98,956.67 894.89,952.74 898.79,946.45 902.7,937.25 906.6,928.32 910.51,928.14 914.42,917.66 918.32,918.44 922.23,919.84 926.13,921.72 930.04,930.88 933.95,937.82 937.85,939.7 941.76,944.57 945.66,950.04 949.57,955.51 953.48,960.98 957.38,957.11 961.29,954.35 965.19,933.88 969.1,905.89 973.01,896.98 976.91,913.62 980.82,911.04 984.72,910.63 988.63,922.42 992.54,940.07 996.44,945.88 1000.35,947.08 1004.25,943.15 1008.16,946.74 1012.07,946.02 1015.97,941.3 1019.88,937.42 1023.78,954.05 1027.69,955.94 1031.6,957.5 1035.5,959.82 1039.41,961.01 1043.31,961.01 1047.22,975.2 1051.13,989.59 1055.03,988.57 1058.94,985.74 1062.84,981.1 1066.75,981.29 1070.66,985.32 1074.56,995.8 1078.47,983.17 1082.37,972.37 1086.28,970.32 1090.19,958.09 1094.09,950.59 1098,961.18 1101.9,974.06 1105.81,985.72 1109.72,989.65 1113.62,992.04 1117.53,993.68 1121.43,998.88 1125.34,1001.44 1129.25,1001.87 1133.15,1008.7 1137.06,1015.09 1140.96,1021.07 1144.87,968.52 1148.78,963.2 1152.68,971.81 1156.59,977.94 1160.49,970.08 1164.4,964.19 1168.31,959.55 1172.21,963.01 1176.12,970.04 1180.02,955.84 1183.93,945.23 1187.84,951.09 1191.74,948.76 1195.65,942.1 1199.55,941.14 1203.46,933.95 1207.37,915.87 1211.27,900.28 1215.18,896.44 1219.08,889.88 1222.99,864.94 1226.9,872.81 1230.8,879.38 1234.71,865.2 1238.61,859.69 1242.52,868.01" fill="none" stroke="#8460cc" stroke-width="1.5" stroke-linejoin="round"/>
<polyline points="16.04,980.08 19.94,979.25 23.85,977.95 27.75,976.63 31.66,975.3 35.57,973.5 39.47,971.23 43.38,969.45 47.28,968.29 51.19,967.14 55.1,965.85 59,964.09 62.91,961.85 66.81,958.75 70.72,955.07 74.63,952.25 78.53,949.77 82.44,946.44 86.34,943.03 90.25,939.17 94.16,935.54 98.06,931.6 101.97,927.41 105.87,925.2 109.78,924.75 113.69,925.63 117.59,926.85 121.5,928 125.4,929.98 129.31,931.72 133.22,933.99 137.12,937.54 141.03,941.6 144.93,946.66 148.84,951.59 152.75,956.18 156.65,960.15 160.56,961.01 164.46,959.19 168.37,957.62 172.28,957.18 176.18,957.48 180.09,956.98 183.99,955.43 187.9,954.4 191.81,953.64 195.71,952.75 199.62,952.38 203.52,953.08 207.43,954.06 211.34,955.01 215.24,956.78 219.15,959.35 223.05,961.45 226.96,963.25 230.87,965.48 234.77,968.86 238.68,973.43 242.58,977.52 246.49,978.63 250.4,977.74 254.3,975.53 258.21,971.88 262.11,967.45 266.02,962.62 269.93,957.09 273.83,951.73 277.74,947.16 281.64,941.16 285.55,933.88 289.46,924.82 293.36,914.5 297.27,902.9 301.17,894.95 305.08,890.52 308.99,886.49 312.89,882.84 316.8,879.48 320.7,878.17 324.61,878.6 328.52,879.22 332.42,878.25 336.33,877.37 340.23,876.9 344.14,878.36 348.05,880.03 351.95,880.81 355.86,880.97 359.76,880.21 363.67,879.32 367.58,878.25 371.48,878.34 375.39,878.07 379.29,878.83 383.2,879.67 387.11,880.51 391.01,881.97 394.92,883.97 398.82,885.82 402.73,888.75 406.64,893.9 410.54,898.46 414.45,902.78 418.35,908.53 422.26,913.82 426.17,919.52 430.07,923.68 433.98,925.38 437.88,925.93 441.79,927.23 445.7,929.59 449.6,932.26 453.51,934.16 457.41,936.3 461.32,938.11 465.23,940 469.13,940.34 473.04,939.82 476.94,939.55 480.85,938.56 484.76,938.35 488.66,938.42 492.57,940.24 496.47,942.01 500.38,943.35 504.29,943.49 508.19,943.79 512.1,944.14 516,944.61 519.91,944.01 523.82,943.22 527.72,941.07 531.63,939.34 535.53,938.07 539.44,937.84 543.35,937.37 547.25,936.61 551.16,935.78 555.06,934.05 558.97,933.45 562.88,932.92 566.78,932.46 570.69,932.23 574.59,933.61 578.5,935.33 582.41,937.95 586.31,941.58 590.22,945.15 594.12,948.52 598.03,950.97 601.94,954.01 605.84,956.96 609.75,960.49 613.65,963.61 617.56,967.03 621.47,969.89 625.37,971.63 629.28,973.09 633.18,974.68 637.09,977.12 641,978.02 644.9,978.48 648.81,978.18 652.71,979.73 656.62,980.48 660.53,980.11 664.43,979.14 668.34,978.77 672.24,978.22 676.15,977.84 680.06,978.8 683.96,979.19 687.87,979.25 691.77,977.16 695.68,974.87 699.59,970.97 703.49,967.45 707.4,965.47 711.3,962.59 715.21,959.85 719.12,957.87 723.02,955.87 726.93,954.46 730.83,954.19 734.74,953.18 738.65,952.1 742.55,952.22 746.46,953.85 750.36,956.38 754.27,960.45 758.18,963.95 762.08,965.41 765.99,967.25 769.89,969.35 773.8,971.09 777.71,973.01 781.61,974.43 785.52,974.08 789.42,973.32 793.33,972.52 797.24,971.52 801.14,970.85 805.05,970.77 808.95,971.12 812.86,971.83 816.77,972.89 820.67,973.65 824.58,974.82 828.48,976.05 832.39,976.85 836.3,977.87 840.2,979.98 844.11,982.43 848.01,983.89 851.92,983.77 855.83,983.26 859.73,981.86 863.64,979.6 867.54,977.32 871.45,975.36 875.36,974.33 879.26,973.17 883.17,971.5 887.07,969.44 890.98,967.12 894.89,963.72 898.79,959.99 902.7,956.8 906.6,954.49 910.51,952.34 914.42,949.91 918.32,947.62 922.23,944.93 926.13,941.93 930.04,939.19 933.95,937.01 937.85,935.35 941.76,934.3 945.66,933.83 949.57,934.03 953.48,935.06 957.38,936.48 961.29,938.34 965.19,938.75 969.1,937.91 973.01,936.38 976.91,935.93 980.82,935.17 984.72,933.72 988.63,932.62 992.54,932.65 996.44,932.74 1000.35,932.53 1004.25,931.65 1008.16,930.63 1012.07,929.84 1015.97,928.91 1019.88,929.16 1023.78,932.6 1027.69,936.81 1031.6,939.95 1035.5,943.43 1039.41,947.03 1043.31,949.79 1047.22,952.3 1051.13,955.42 1055.03,958.38 1058.94,961.42 1062.84,963.88 1066.75,966.4 1070.66,969.54 1074.56,973.71 1078.47,975.79 1082.37,976.96 1086.28,977.88 1090.19,977.76 1094.09,977.01 1098,977.02 1101.9,976.94 1105.81,976.66 1109.72,976.74 1113.62,977.19 1117.53,978.09 1121.43,979.35 1125.34,980.5 1129.25,980.93 1133.15,982.76 1137.06,985.81 1140.96,989.43 1144.87,990.18 1148.78,991.08 1152.68,991.84 1156.59,992.11 1160.49,991 1164.4,989.18 1168.31,986.86 1172.21,984.67 1176.12,982.61 1180.02,979.35 1183.93,975.3 1187.84,971.19 1191.74,966.45 1195.65,960.81 1199.55,958.86 1203.46,956.77 1207.37,952.77 1211.27,947.22 1215.18,941.96 1219.08,936.65 1222.99,929.9 1226.9,923.45 1230.8,916.98 1234.71,910.5 1238.61,904.39 1242.52,898.46" fill="none" stroke="#f5d332" stroke-width="1.5" stroke-linejoin="round"/>
<rect x="20" y="47" width="803" height="25" fill="#0e0e0e"/>
<rect x="20" y="72" width="470" height="24.5" fill="#0e0e0e"/>
<rect x="20" y="827" width="236" height="25" fill="#0e0e0e"/>
<text x="15" y="27.6" font-size="16.6" fill="#e6e6e6" stroke="#e6e6e6" stroke-width="0.35" text-anchor="start" font-weight="400" textLength="606" lengthAdjust="spacingAndGlyphs">ParshwaTurakhiya28 created with TradingView.com, Jul 18, 2025 10:28 UTC</text>
<text x="26.2" y="66.2" font-size="16.4" fill="#d1d4dc" stroke="#d1d4dc" stroke-width="0.35" text-anchor="start" font-weight="400" textLength="281.3" lengthAdjust="spacingAndGlyphs">Hedera / US Dollar · 1D · COINBASE</text>
<text x="320" y="66.2" font-size="16.4" fill="#d1d4dc" stroke="#d1d4dc" stroke-width="0.35" text-anchor="start" font-weight="400">O</text>
<text x="332.5" y="66.2" font-size="16.4" fill="#e8354a" stroke="#e8354a" stroke-width="0.35" text-anchor="start" font-weight="400" textLength="63.7" lengthAdjust="spacingAndGlyphs">0.27672</text>
<text x="407.5" y="66.2" font-size="16.4" fill="#d1d4dc" stroke="#d1d4dc" stroke-width="0.35" text-anchor="start" font-weight="400">H</text>
<text x="420" y="66.2" font-size="16.4" fill="#e8354a" stroke="#e8354a" stroke-width="0.35" text-anchor="start" font-weight="400" textLength="65.5" lengthAdjust="spacingAndGlyphs">0.29927</text>
<text x="496.8" y="66.2" font-size="16.4" fill="#d1d4dc" stroke="#d1d4dc" stroke-width="0.35" text-anchor="start" font-weight="400">L</text>
<text x="506" y="66.2" font-size="16.4" fill="#e8354a" stroke="#e8354a" stroke-width="0.35" text-anchor="start" font-weight="400" textLength="67.4" lengthAdjust="spacingAndGlyphs">0.26645</text>
<text x="584" y="66.2" font-size="16.4" fill="#d1d4dc" stroke="#d1d4dc" stroke-width="0.35" text-anchor="start" font-weight="400">C</text>
<text x="595.7" y="66.2" font-size="16.4" fill="#e8354a" stroke="#e8354a" stroke-width="0.35" text-anchor="start" font-weight="400" textLength="61.8" lengthAdjust="spacingAndGlyphs">0.27172</text>
<text x="666" y="66.2" font-size="16.4" fill="#e8354a" stroke="#e8354a" stroke-width="0.35" text-anchor="start" font-weight="400" textLength="152.8" lengthAdjust="spacingAndGlyphs">−0.00491 (−1.77%)</text>
<text x="26.2" y="90" font-size="16.4" fill="#d1d4dc" stroke="#d1d4dc" stroke-width="0.35" text-anchor="start" font-weight="400" textLength="157.6" lengthAdjust="spacingAndGlyphs">EMA 20/50/100/200</text>
<text x="195" y="90" font-size="16.4" fill="#c0181c" stroke="#c0181c" stroke-width="0.35" text-anchor="start" font-weight="400" textLength="66.2" lengthAdjust="spacingAndGlyphs">0.20473</text>
<text x="273.8" y="90" font-size="16.4" fill="#ff9800" stroke="#ff9800" stroke-width="0.35" text-anchor="start" font-weight="400" textLength="61.2" lengthAdjust="spacingAndGlyphs">0.18400</text>
<text x="347.5" y="90" font-size="16.4" fill="#26e0f0" stroke="#26e0f0" stroke-width="0.35" text-anchor="start" font-weight="400" textLength="61.2" lengthAdjust="spacingAndGlyphs">0.18313</text>
<text x="416" y="90" font-size="16.4" fill="#1818a0" stroke="#1818a0" stroke-width="0.35" text-anchor="start" font-weight="400" textLength="70" lengthAdjust="spacingAndGlyphs">0.18283</text>
<text x="1491.3" y="123.2" font-size="17.4" fill="#d1d4dc" stroke="#d1d4dc" stroke-width="0.2" text-anchor="start" font-weight="400" textLength="68" lengthAdjust="spacingAndGlyphs">0.40000</text>
<text x="1491.3" y="211.63" font-size="17.4" fill="#d1d4dc" stroke="#d1d4dc" stroke-width="0.2" text-anchor="start" font-weight="400" textLength="68" lengthAdjust="spacingAndGlyphs">0.35000</text>
<text x="1491.3" y="300.06" font-size="17.4" fill="#d1d4dc" stroke="#d1d4dc" stroke-width="0.2" text-anchor="start" font-weight="400" textLength="68" lengthAdjust="spacingAndGlyphs">0.30000</text>
<text x="1491.3" y="388.49" font-size="17.4" fill="#d1d4dc" stroke="#d1d4dc" stroke-width="0.2" text-anchor="start" font-weight="400" textLength="68" lengthAdjust="spacingAndGlyphs">0.25000</text>
<text x="1491.3" y="476.92" font-size="17.4" fill="#d1d4dc" stroke="#d1d4dc" stroke-width="0.2" text-anchor="start" font-weight="400" textLength="68" lengthAdjust="spacingAndGlyphs">0.20000</text>
<text x="1491.3" y="565.35" font-size="17.4" fill="#d1d4dc" stroke="#d1d4dc" stroke-width="0.2" text-anchor="start" font-weight="400" textLength="68" lengthAdjust="spacingAndGlyphs">0.15000</text>
<text x="1491.3" y="653.78" font-size="17.4" fill="#d1d4dc" stroke="#d1d4dc" stroke-width="0.2" text-anchor="start" font-weight="400" textLength="68" lengthAdjust="spacingAndGlyphs">0.10000</text>
<text x="1491.3" y="742.21" font-size="17.4" fill="#d1d4dc" stroke="#d1d4dc" stroke-width="0.2" text-anchor="start" font-weight="400" textLength="68" lengthAdjust="spacingAndGlyphs">0.05000</text>
<rect x="1483.5" y="43.5" width="97" height="37.5" rx="6" fill="#0e0e0e" stroke="#2e2e2e" stroke-width="1.5"/>
<text x="1497" y="67.7" font-size="16.4" fill="#e8e8e8" stroke="#e8e8e8" stroke-width="0.35" text-anchor="start" font-weight="400" textLength="34" lengthAdjust="spacingAndGlyphs">USD</text>
<rect x="1479" y="333" width="94.5" height="24" rx="2" fill="#f23645"/>
<text x="1493" y="351.2" font-size="17.4" fill="#ffe8ea" stroke="#ffe8ea" stroke-width="0.2" text-anchor="start" font-weight="400" textLength="72" lengthAdjust="spacingAndGlyphs">13:31:03</text>
<rect x="1479" y="451" width="89" height="24" rx="2" fill="#ff0000"/>
<text x="1491.3" y="469.2" font-size="17.4" fill="#ffffff" stroke="#ffffff" stroke-width="0.2" text-anchor="start" font-weight="400" textLength="68" lengthAdjust="spacingAndGlyphs">0.20473</text>
<rect x="1479" y="487.5" width="89" height="23.5" rx="2" fill="#ff8c00"/>
<text x="1491.3" y="505.45" font-size="17.4" fill="#ffffff" stroke="#ffffff" stroke-width="0.2" text-anchor="start" font-weight="400" textLength="68" lengthAdjust="spacingAndGlyphs">0.18400</text>
<rect x="1479" y="511" width="89" height="24" rx="2" fill="#00ffff"/>
<text x="1491.3" y="529.2" font-size="17.4" fill="#0a3a3a" stroke="#0a3a3a" stroke-width="0.2" text-anchor="start" font-weight="400" textLength="68" lengthAdjust="spacingAndGlyphs">0.18313</text>
<rect x="1479" y="535" width="89" height="24.5" rx="2" fill="#0000ff"/>
<text x="1491.3" y="553.45" font-size="17.4" fill="#ffffff" stroke="#ffffff" stroke-width="0.2" text-anchor="start" font-weight="400" textLength="68" lengthAdjust="spacingAndGlyphs">0.18283</text>
<text x="26.2" y="845" font-size="16.4" fill="#d1d4dc" stroke="#d1d4dc" stroke-width="0.35" text-anchor="start" font-weight="400" textLength="113.5" lengthAdjust="spacingAndGlyphs">RSI (14, close)</text>
<text x="150" y="845" font-size="16.4" fill="#7e57c2" stroke="#7e57c2" stroke-width="0.35" text-anchor="start" font-weight="400" textLength="43.5" lengthAdjust="spacingAndGlyphs">81.33</text>
<text x="204" y="845" font-size="16.4" fill="#fdd835" stroke="#fdd835" stroke-width="0.35" text-anchor="start" font-weight="400" textLength="46" lengthAdjust="spacingAndGlyphs">69.34</text>
<clipPath id="c100"><rect x="1474" y="816.5" width="110" height="20"/></clipPath>
<text x="1495" y="823.9" font-size="17.4" fill="#d1d4dc" stroke="#d1d4dc" stroke-width="0.2" text-anchor="start" font-weight="400" textLength="54" lengthAdjust="spacingAndGlyphs" clip-path="url(#c100)">100.00</text>
<text x="1491.3" y="930.2" font-size="17.4" fill="#d1d4dc" stroke="#d1d4dc" stroke-width="0.2" text-anchor="start" font-weight="400" textLength="46.6" lengthAdjust="spacingAndGlyphs">60.00</text>
<text x="1491.3" y="982.7" font-size="17.4" fill="#d1d4dc" stroke="#d1d4dc" stroke-width="0.2" text-anchor="start" font-weight="400" textLength="46.6" lengthAdjust="spacingAndGlyphs">40.00</text>
<text x="1491.3" y="1035.2" font-size="17.4" fill="#d1d4dc" stroke="#d1d4dc" stroke-width="0.2" text-anchor="start" font-weight="400" textLength="46.6" lengthAdjust="spacingAndGlyphs">20.00</text>
<rect x="1478.8" y="855.4" width="67.5" height="24.399999999999977" rx="2" fill="#7e57c2"/>
<text x="1491.3" y="873.8" font-size="17.4" fill="#ffffff" stroke="#ffffff" stroke-width="0.2" text-anchor="start" font-weight="400" textLength="46.6" lengthAdjust="spacingAndGlyphs">81.33</text>
<rect x="1478.8" y="886.2" width="67.5" height="24.399999999999977" rx="2" fill="#fdd835"/>
<text x="1491.3" y="904.6" font-size="17.4" fill="#131313" stroke="#131313" stroke-width="0.2" text-anchor="start" font-weight="400" textLength="46.6" lengthAdjust="spacingAndGlyphs">69.34</text>
<text x="109.78" y="1066.5" font-size="18.2" fill="#d1d4dc" stroke="#d1d4dc" stroke-width="0.35" text-anchor="middle" font-weight="400" textLength="29" lengthAdjust="spacingAndGlyphs">Oct</text>
<text x="230.87" y="1066.5" font-size="18.2" fill="#d1d4dc" stroke="#d1d4dc" stroke-width="0.35" text-anchor="middle" font-weight="400" textLength="29.5" lengthAdjust="spacingAndGlyphs">Nov</text>
<text x="348.05" y="1066.5" font-size="18.2" fill="#d1d4dc" stroke="#d1d4dc" stroke-width="0.35" text-anchor="middle" font-weight="400" textLength="30" lengthAdjust="spacingAndGlyphs">Dec</text>
<text x="469.13" y="1066.5" font-size="18.2" fill="#d1d4dc" stroke="#d1d4dc" stroke-width="0.35" text-anchor="middle" font-weight="700" textLength="45" lengthAdjust="spacingAndGlyphs">2025</text>
<text x="590.22" y="1066.5" font-size="18.2" fill="#d1d4dc" stroke="#d1d4dc" stroke-width="0.35" text-anchor="middle" font-weight="400" textLength="28" lengthAdjust="spacingAndGlyphs">Feb</text>
<text x="699.59" y="1066.5" font-size="18.2" fill="#d1d4dc" stroke="#d1d4dc" stroke-width="0.35" text-anchor="middle" font-weight="400" textLength="29" lengthAdjust="spacingAndGlyphs">Mar</text>
<text x="820.67" y="1066.5" font-size="18.2" fill="#d1d4dc" stroke="#d1d4dc" stroke-width="0.35" text-anchor="middle" font-weight="400" textLength="27" lengthAdjust="spacingAndGlyphs">Apr</text>
<text x="937.85" y="1066.5" font-size="18.2" fill="#d1d4dc" stroke="#d1d4dc" stroke-width="0.35" text-anchor="middle" font-weight="400" textLength="31" lengthAdjust="spacingAndGlyphs">May</text>
<text x="1058.94" y="1066.5" font-size="18.2" fill="#d1d4dc" stroke="#d1d4dc" stroke-width="0.35" text-anchor="middle" font-weight="400" textLength="28" lengthAdjust="spacingAndGlyphs">Jun</text>
<text x="1176.12" y="1066.5" font-size="18.2" fill="#d1d4dc" stroke="#d1d4dc" stroke-width="0.35" text-anchor="middle" font-weight="400" textLength="23" lengthAdjust="spacingAndGlyphs">Jul</text>
<text x="1297.2" y="1066.5" font-size="18.2" fill="#d1d4dc" stroke="#d1d4dc" stroke-width="0.35" text-anchor="middle" font-weight="400" textLength="30" lengthAdjust="spacingAndGlyphs">Aug</text>
<text x="1418.29" y="1066.5" font-size="18.2" fill="#d1d4dc" stroke="#d1d4dc" stroke-width="0.35" text-anchor="middle" font-weight="400" textLength="30" lengthAdjust="spacingAndGlyphs">Sep</text>
<g fill="#f2f2f2">
<path d="M14.3 1096.1H25V1110H19.1V1102.5H14.3Z"/>
<circle cx="29.8" cy="1099.3" r="2.7"/>
<path d="M36 1096.1H41.6L35.8 1110H30.2Z"/>
</g>
<text x="47.8" y="1111.5" font-size="18.9" fill="#f0f0f0" stroke="#f0f0f0" stroke-width="0.6" font-weight="400" textLength="104.2" lengthAdjust="spacingAndGlyphs">TradingView</text>
</svg>
</body></html>
